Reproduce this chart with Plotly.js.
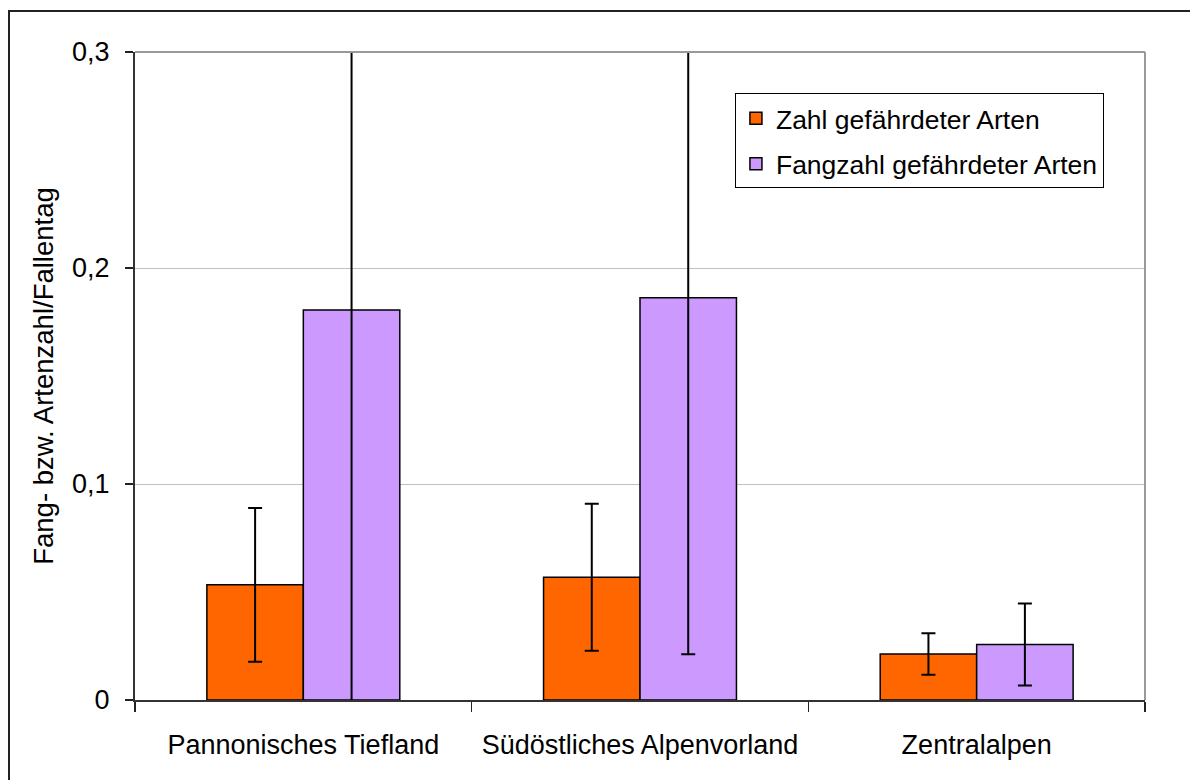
<!DOCTYPE html>
<html>
<head>
<meta charset="utf-8">
<script src="https://cdn.plot.ly/plotly-3.0.1.min.js"></script>
<style>
  html, body { margin: 0; padding: 0; background: #fff; overflow: hidden; }
  #wrap { position: relative; width: 1190px; height: 780px; overflow: hidden; }
  #chart { width: 1190px; height: 780px; }
  #frame { position: absolute; left: 8px; top: 10px; width: 1200px; height: 800px;
           border: 2px solid #222; pointer-events: none; box-sizing: border-box; }
</style>
</head>
<body>
<div id="wrap">
  <div id="chart"></div>
  <div id="frame"></div>
</div>
<script>
// Data
const categories = ["Pannonisches Tiefland", "Südöstliches Alpenvorland", "Zentralalpen"];
const seriesNames = ["Zahl gefährdeter Arten", "Fangzahl gefährdeter Arten"];
const zahlValues = [0.0533, 0.0568, 0.0213];
const zahlErrors = [0.0356, 0.0340, 0.0096];
const fangValues = [0.1806, 0.1862, 0.0257];
const fangErrors = [0.2000, 0.1650, 0.0190];
const yTickVals = [0, 0.1, 0.2, 0.3];

const font = "Liberation Sans, Arial, sans-serif";

const traces = [
  {
    type: "bar", name: seriesNames[0], x: categories, y: zahlValues, legendgroup: "a",
    marker: { color: "#FF6600", line: { color: "#000", width: 1.5 } },
    error_y: { type: "data", array: zahlErrors, visible: true, color: "#000", thickness: 2, width: 7 }
  },
  {
    type: "bar", name: seriesNames[1], x: categories, y: fangValues, legendgroup: "b",
    marker: { color: "#CC99FF", line: { color: "#000", width: 1.5 } },
    error_y: { type: "data", array: fangErrors, visible: true, color: "#000", thickness: 2, width: 7 }
  }
];

const layout = {
  width: 1190, height: 780,
  margin: { l: 135, r: 45, t: 52, b: 80 },
  paper_bgcolor: "#fff", plot_bgcolor: "#fff",
  separators: ",.",
  font: { family: font, size: 26, color: "#000" },
  barmode: "group", bargap: 0.427, bargroupgap: 0,
  showlegend: true,
  legend: {
    x: 0.594, y: 0.936, xanchor: "left", yanchor: "top",
    bgcolor: "#fff", bordercolor: "#000", borderwidth: 1,
    font: { family: font, size: 26.5, color: "#000" },
    tracegroupgap: 8, itemwidth: 30
  },
  xaxis: {
    type: "category",
    tickson: "boundaries",
    ticks: "outside", ticklen: 10, tickwidth: 1.5, tickcolor: "#222",
    showline: true, linecolor: "#333", linewidth: 2,
    showgrid: false, zeroline: false,
    tickfont: { family: font, size: 27, color: "#000" },
    ticklabelstandoff: 20,
    fixedrange: true
  },
  yaxis: {
    range: [0, 0.3],
    tickvals: yTickVals,
    ticks: "outside", ticklen: 8, tickwidth: 1.5, tickcolor: "#222",
    showline: true, linecolor: "#333", linewidth: 2,
    showgrid: true, gridcolor: "#c0c0c0", gridwidth: 1,
    zeroline: false,
    tickfont: { family: font, size: 27, color: "#000" },
    ticklabelstandoff: 10,
    title: { text: "Fang- bzw. Artenzahl/Fallentag", font: { family: font, size: 27.5, color: "#000" }, standoff: 10 },
    automargin: false,
    fixedrange: true
  },
  shapes: [
    { type: "line", xref: "x domain", yref: "y domain", x0: 1, x1: 1, y0: 0, y1: 1,
      line: { color: "#999", width: 2 } },
    { type: "line", xref: "x domain", yref: "y domain", x0: 0, x1: 1, y0: 1, y1: 1,
      line: { color: "#999", width: 2 } }
  ]
};

Plotly.newPlot("chart", traces, layout, { displayModeBar: false, staticPlot: true });
</script>
</body>
</html>
